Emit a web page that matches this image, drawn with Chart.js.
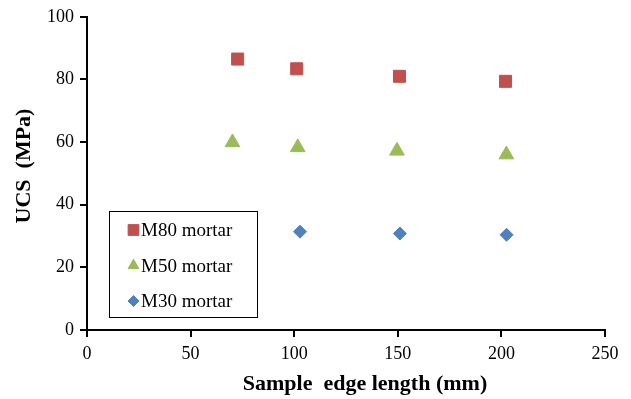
<!DOCTYPE html>
<html><head><meta charset="utf-8">
<script src="https://cdn.jsdelivr.net/npm/chart.js@4/dist/chart.umd.min.js"></script>
<style>html,body{margin:0;padding:0;background:#fff;}#wrap{width:631px;height:399px;position:relative;}</style>
</head><body><div id="wrap"><canvas id="c" width="631" height="399"></canvas></div>
<script>
const seriesNames = ['M80 mortar', 'M50 mortar', 'M30 mortar'];
const m80X = [72.7, 101.2, 150.8, 202];
const m80Y = [86.5, 83.4, 81, 79.4];
const m50X = [70.2, 101.7, 149.6, 202.4];
const m50Y = [59.9, 58.3, 57.2, 56];
const m30X = [102.8, 151, 202.5];
const m30Y = [31.4, 30.8, 30.4];
const xTicks = [0, 50, 100, 150, 200, 250];
const yTicks = [0, 20, 40, 60, 80, 100];
const xTitle = 'Sample  edge length (mm)';
const yTitle = 'UCS  (MPa)';

const colors = ['#C0504D', '#9BBB59', '#4F81BD'];
const styles = ['rect', 'triangle', 'rectRot'];
const radii = [8.5, 8.5, 6.5];
const pts = (xs, ys) => xs.map((x, i) => ({x: x, y: ys[i]}));
const seriesData = [pts(m80X, m80Y), pts(m50X, m50Y), pts(m30X, m30Y)];
const serif = '"Liberation Serif", "Times New Roman", serif';

const overlayPlugin = {
  id: 'overlay',
  afterDraw(chart) {
    const ctx = chart.ctx;
    ctx.save();
    // axis titles
    ctx.fillStyle = '#000';
    ctx.font = 'bold 22px ' + serif;
    ctx.textAlign = 'center';
    ctx.textBaseline = 'middle';
    ctx.fillText(xTitle, 365, 384);
    ctx.save();
    ctx.translate(24, 166);
    ctx.rotate(-Math.PI / 2);
    ctx.fillText(yTitle, 0, 0);
    ctx.restore();
    // legend inside plot
    const bx = 109.5, by = 211.5, bw = 148, bh = 106;
    ctx.fillStyle = '#fff';
    ctx.fillRect(bx, by, bw, bh);
    ctx.strokeStyle = '#000';
    ctx.lineWidth = 1;
    ctx.strokeRect(bx, by, bw, bh);
    const rowsY = [230, 265.5, 301];
    const lr = [7.6, 6.2, 5.5];
    chart.data.datasets.forEach((ds, i) => {
      ctx.fillStyle = ds.backgroundColor;
      ctx.strokeStyle = ds.borderColor;
      ctx.lineWidth = 1;
      Chart.helpers.drawPoint(ctx, {pointStyle: ds.pointStyle, radius: lr[i], borderWidth: 1, rotation: 0}, 133.5, rowsY[i]);
      ctx.fillStyle = '#000';
      ctx.font = '19px ' + serif;
      ctx.textBaseline = 'middle';
      ctx.textAlign = 'left';
      ctx.fillText(ds.label, 141, rowsY[i] + 1.5);
    });
    ctx.restore();
  }
};

new Chart(document.getElementById('c'), {
  type: 'scatter',
  data: {
    datasets: seriesNames.map((n, i) => ({
      label: n,
      data: seriesData[i],
      backgroundColor: colors[i],
      borderColor: colors[i],
      borderWidth: 1,
      pointStyle: styles[i],
      pointRadius: radii[i],
      pointHoverRadius: radii[i]
    }))
  },
  options: {
    responsive: false,
    animation: false,
    devicePixelRatio: 1,
    layout: {padding: {left: 0, right: 26, top: 14, bottom: 0}},
    plugins: {legend: {display: false}, tooltip: {enabled: false}},
    scales: {
      x: {
        type: 'linear', min: 0, max: 250,
        afterBuildTicks: s => { s.ticks = xTicks.map(v => ({value: v})); },
        afterFit: s => { s.height = 69; },
        grid: {display: true, drawOnChartArea: false, drawTicks: true, tickLength: 7, color: '#000', lineWidth: 2},
        border: {display: true, color: '#000', width: 2},
        ticks: {color: '#000', padding: 6, maxRotation: 0, font: {family: serif, size: 18}},
        title: {display: false}
      },
      y: {
        type: 'linear', min: 0, max: 100,
        afterBuildTicks: s => { s.ticks = yTicks.map(v => ({value: v})); },
        afterFit: s => { s.width = 87; },
        grid: {display: true, drawOnChartArea: false, drawTicks: true, tickLength: 7, color: '#000', lineWidth: 2},
        border: {display: true, color: '#000', width: 2},
        ticks: {color: '#000', padding: 6, font: {family: serif, size: 18}},
        title: {display: false}
      }
    }
  },
  plugins: [overlayPlugin]
});
</script></body></html>
